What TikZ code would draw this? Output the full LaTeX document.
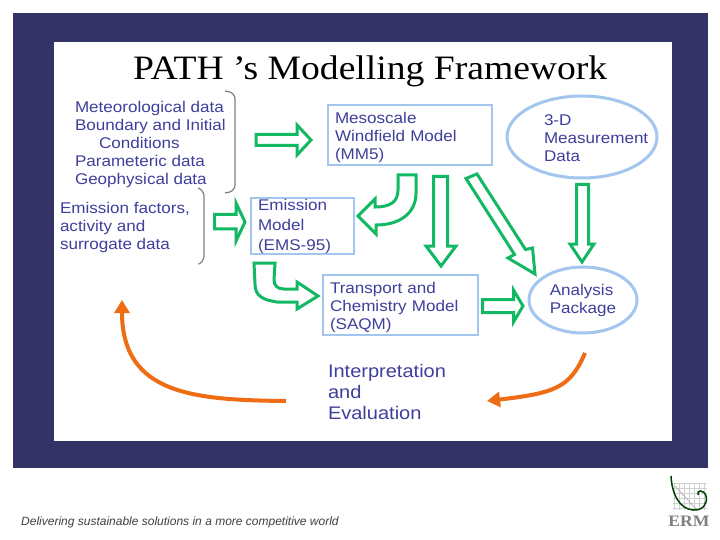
\documentclass[tikz,border=0pt]{standalone}
\usepackage{fontspec}
\setmainfont[FakeStretch=1.1]{Liberation Sans}
\newfontfamily\titlefont[FakeStretch=1.1]{Liberation Serif}
\newfontfamily\stripfont{Liberation Sans}
\usetikzlibrary{positioning}
\usetikzlibrary{arrows.meta}
\usetikzlibrary{shapes.geometric}
\definecolor{navyBand}{HTML}{333366}
\definecolor{bodyBlue}{HTML}{3F3F9C}
\definecolor{edgeBlue}{HTML}{A3C6EE}
\definecolor{arrowGreen}{HTML}{12B864}
\definecolor{flowOrange}{HTML}{EE6C14}
\definecolor{braceGrey}{HTML}{7F7F7F}
\tikzset{%
	% Specifications for style of nodes:
	base/.style = {inner sep=0pt, outer sep=0pt, text=bodyBlue, align=left,
		font=\fontsize{15.5pt}{18pt}\selectfont},
	modelBox/.style = {base, rectangle, draw=edgeBlue, line width=2.6pt,
		inner xsep=7pt, anchor=north west},
	dropText/.style = {execute at begin node=\rule{0pt}{16pt}},
	modelOval/.style = {base, ellipse, draw=edgeBlue, line width=3pt},
	blockArrow/.style = {draw=arrowGreen, line width=3pt, miter limit=8},
	bracket/.style = {draw=braceGrey, line width=1.2pt, rounded corners=6pt},
	flowArrow/.style = {draw=flowOrange, line width=4pt,
		-{Triangle[length=13pt,width=15pt]}}
}
\begin{document}
\begin{tikzpicture}[x=1pt, y=-1pt]
	\useasboundingbox (0,0) rectangle (720,540);
	\fill[white] (0,0) rectangle (720,540);
	\fill[navyBand] (13,13) rectangle (708,468);
	\fill[white] (54,42) rectangle (672,441);
	\node (title) [anchor=base west, inner sep=0pt, font=\fontsize{34.2pt}{40pt}\selectfont\titlefont] at (133,79.5) {PATH ’s Modelling Framework};
	% inputs
	\node (metData) [base, anchor=north west] at (75,101) {Meteorological data\\Boundary and Initial\\\hspace{24pt}Conditions\\Parameteric data\\Geophysical data};
	\node (emisData) [base, anchor=north west] at (60,202) {Emission factors,\\activity and\\surrogate data};
	\draw[bracket] (225,91) -- (235,93) -- (235,191) -- (225,193);
	\draw[bracket] (198,188) -- (204,190) -- (204,262) -- (199,264);
	% models
	\node (mm5) [modelBox, dropText, minimum width=164pt, minimum height=60pt, text width=150pt] at (328,105) {Mesoscale\\Windfield Model\\(MM5)};
	\node (ems) [modelBox, minimum width=103pt, minimum height=56pt, text width=89pt, font=\fontsize{15.5pt}{20pt}\selectfont] at (251,198) {Emission\\Model\\(EMS-95)};
	\node (saqm) [modelBox, dropText, minimum width=155pt, minimum height=60pt, text width=141pt] at (323,275) {Transport and\\Chemistry Model\\(SAQM)};
	\node (measure) [modelOval, minimum width=150pt, minimum height=82pt] at (582,137) {};
	\node (measureLabel) [base, anchor=west] at (544,138) {3-D\\Measurement\\Data};
	\node (analysis) [modelOval, minimum width=108pt, minimum height=66pt] at (583,300) {Analysis\\Package};
	\node (interp) [base, anchor=north west, font=\fontsize{18.2pt}{21pt}\selectfont] at (328,364) {Interpretation\\and\\Evaluation};
	% block arrows
	\draw[blockArrow] (256,134.5) -- (297,134.5) -- (297,125) -- (311,140) -- (297,155) -- (297,145.5) -- (256,145.5) -- cycle;
	\draw[blockArrow] (214.5,214.5) -- (236,214.5) -- (236,203) -- (245,222) -- (236,241) -- (236,229) -- (214.5,229) -- cycle;
	\draw[blockArrow] (433.5,176.5) -- (447.5,176.5) -- (447.5,246) -- (456,246) -- (441,266) -- (426,246) -- (433.5,246) -- cycle;
	\draw[blockArrow] (576.5,184.5) -- (588.5,184.5) -- (588.5,244) -- (594,244) -- (582,262) -- (570,244) -- (576.5,244) -- cycle;
	\draw[blockArrow] (466,178.5) -- (477,174) -- (525.5,249.5) -- (532.5,248) -- (535,274) -- (508,258) -- (514.5,254.5) -- cycle;
	\draw[blockArrow] (482.5,299.5) -- (513.5,299.5) -- (513.5,290) -- (523,306) -- (513.5,322) -- (513.5,312.5) -- (482.5,312.5) -- cycle;
	\draw[blockArrow] (398,175) -- (416,175) -- (416,193) .. controls (416,213) and (400,225) .. (376,225) -- (376,234) -- (358,216) -- (375,199) -- (375,207) .. controls (390,207) and (398,202) .. (398,190) -- cycle;
	\draw[blockArrow] (254,263) -- (275,263) -- (274,280) .. controls (274,286) and (278,289) .. (284,289) -- (297,289) -- (297,282) -- (318,296) -- (297,309) -- (297,302) -- (277,302) .. controls (263,300) and (255,296) .. (255,284) -- cycle;
	% feedback
	\coordinate (interpOut) at (286,401);
	\coordinate (emisBack) at (122,300);
	\coordinate (anaOut) at (585,353);
	\coordinate (interpIn) at (487,401);
	\draw[flowArrow] (interpOut) .. controls (195,400) and (122,395) .. (emisBack);
	\draw[flowArrow] (anaOut) .. controls (570,388) and (555,393) .. (interpIn);
	% footer
	\node (strapline) [anchor=base west, inner sep=0pt, font=\fontsize{12pt}{14pt}\selectfont\stripfont\itshape, text=black!75] at (21,525) {Delivering sustainable solutions in a more competitive world};
	\foreach \gx in {674,679,...,707} \draw[black!18, line width=.5pt] (\gx,483) -- (\gx,510);
	\foreach \gy in {483,488,...,510} \draw[black!18, line width=.5pt] (673,\gy) -- (707,\gy);
	\draw[black!40, line width=.5pt] (675,486) -- (697,510);
	\draw[black!75!green, line width=1.5pt] (671,476) .. controls (672,495) and (680,509) .. (693,510) .. controls (703,511) and (708,503) .. (706,496) .. controls (704,489) and (696,490) .. (698,495);
	\node (ermLogo) [anchor=base, inner sep=0pt, text=black!50, font=\fontsize{16pt}{16pt}\selectfont\titlefont\bfseries] at (689,526) {ERM};
\end{tikzpicture}
\end{document}
